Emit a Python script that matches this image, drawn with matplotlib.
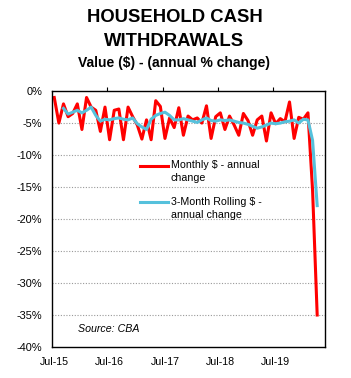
import numpy as np
import matplotlib
matplotlib.use("Agg")
import matplotlib.pyplot as plt
from matplotlib.ticker import FixedLocator, FuncFormatter
from matplotlib.legend_handler import HandlerLine2D

plt.rcParams['font.family'] = ['Liberation Sans', 'DejaVu Sans']

# monthly points, Jul-15 .. Apr-20
tick_labels = ["Jul-15", "Jul-16", "Jul-17", "Jul-18", "Jul-19"]
monthly = [-1.0, -5.0, -2.0, -4.0, -3.5, -2.0, -6.0, -1.0, -2.5, -3.0,
           -6.3, -2.5, -7.6, -3.0, -2.8, -7.6, -2.5, -4.0, -5.3, -7.5,
           -4.5, -7.6, -1.5, -2.4, -7.4, -4.2, -5.7, -2.6, -6.9, -3.9,
           -4.5, -4.2, -5.0, -2.3, -7.4, -4.0, -3.4, -6.0, -3.9, -5.3,
           -6.9, -3.5, -4.6, -6.9, -4.5, -3.9, -7.8, -3.4, -5.1, -4.3,
           -4.8, -1.7, -7.4, -4.1, -4.4, -3.4, -15.5, -35.0]
rolling = [np.nan, np.nan, -2.7, -3.6, -3.3, -3.0, -3.4, -3.0, -2.5, -3.8,
           -4.7, -4.4, -4.5, -4.3, -4.2, -4.4, -4.5, -4.2, -5.1, -5.6,
           -6.0, -4.4, -3.8, -3.5, -3.3, -3.8, -4.5, -4.5, -4.3, -4.5,
           -4.7, -4.9, -4.5, -4.2, -4.6, -4.7, -4.5, -4.6, -4.5, -4.7,
           -4.9, -5.0, -5.2, -5.5, -5.8, -5.6, -5.3, -5.0, -5.1, -5.0,
           -4.8, -4.7, -4.5, -5.0, -4.4, -4.5, -7.7, -17.9]


class FirstLineHandler(HandlerLine2D):
    """legend line level with the first line of a two-line label"""
    def create_artists(self, legend, orig_handle, xdescent, ydescent,
                       width, height, fontsize, trans):
        return super().create_artists(legend, orig_handle, xdescent,
                                      ydescent - 9.0, width, height,
                                      fontsize, trans)


x = np.arange(len(monthly))

fig = plt.figure(figsize=(3.51, 3.78), dpi=100)
ax = fig.add_axes([0.148, 0.082, 0.778, 0.677])

ax.plot(x, monthly, color='#ff0000', lw=2.2, label='Monthly $ - annual\nchange')
ax.plot(x, rolling, color='#55c1dc', lw=2.2, label='3-Month Rolling $ -\nannual change')

ax.set_xlim(-0.5, 58.7)
ax.set_ylim(-40, 0)

# y axis
ax.set_yticks(np.arange(-40, 1, 5))
ax.yaxis.set_major_formatter(FuncFormatter(lambda v, p: f"{int(v)}%"))
ax.tick_params(axis='y', labelsize=7.9, length=0, pad=7)
for v in range(-35, 0, 5):
    ax.axhline(v, color='#999999', lw=0.8, ls=(0, (1, 1.5)), zorder=0)

# x axis: labels at bottom, tick marks on top at year boundaries
ax.xaxis.set_major_locator(FixedLocator([0, 12, 24, 36, 48]))
ax.set_xticklabels(tick_labels)
ax.tick_params(axis='x', which='major', length=0, labelsize=7.7, pad=7)
ax.xaxis.set_minor_locator(FixedLocator([11.5, 23.5, 35.5, 47.5]))
ax.tick_params(axis='x', which='minor', top=True, bottom=False,
               direction='out', length=3, width=0.8)

for s in ax.spines.values():
    s.set_linewidth(1.0)
    s.set_color('black')

leg = ax.legend(loc='upper left', bbox_to_anchor=(0.322, 0.73), frameon=False,
                fontsize=7.7, handlelength=2.6, handletextpad=0.28,
                labelspacing=1.25, borderaxespad=0, borderpad=0,
                handler_map={plt.Line2D: FirstLineHandler()})
for t in leg.get_texts():
    t.set_linespacing(1.4)

ax.text(0.095, 0.07, "Source: CBA", transform=ax.transAxes, fontsize=7.7,
        style='italic', va='center')

fig.text(0.497, 1 - 18 / 378, "HOUSEHOLD CASH", ha='center', va='center',
         fontsize=13.3, fontweight='bold')
fig.text(0.497, 1 - 41 / 378, "WITHDRAWALS", ha='center', va='center',
         fontsize=13.3, fontweight='bold')
fig.text(0.497, 1 - 63 / 378, "Value ($) - (annual % change)", ha='center',
         va='center', fontsize=10, fontweight='bold')

fig.savefig("out.png", dpi=100)
